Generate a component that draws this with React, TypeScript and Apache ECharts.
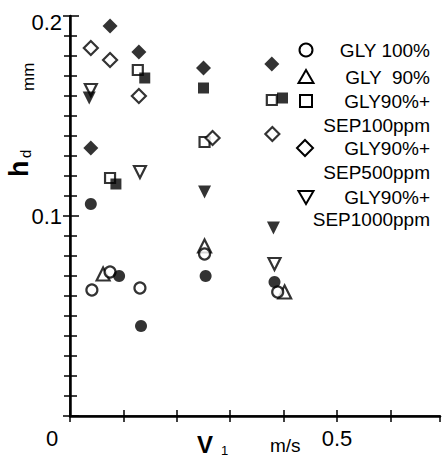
import React, { useEffect, useRef } from "react";
import * as echarts from "echarts";

// ---- data (V1 in m/s, hd in mm) ----
const gly100Open = [[0.041, 0.063], [0.075, 0.072], [0.131, 0.064], [0.252, 0.081], [0.389, 0.062]];
const gly100Filled = [[0.039, 0.106], [0.092, 0.070], [0.133, 0.045], [0.254, 0.070], [0.383, 0.067]];
const gly90Open = [[0.062, 0.071], [0.252, 0.085], [0.402, 0.062]];
const sep100Open = [[0.075, 0.119], [0.127, 0.173], [0.252, 0.137], [0.378, 0.158]];
const sep100Filled = [[0.086, 0.116], [0.140, 0.169], [0.250, 0.164], [0.398, 0.159]];
const sep500Open = [[0.039, 0.184], [0.075, 0.178], [0.129, 0.160], [0.267, 0.139], [0.379, 0.141]];
const sep500Filled = [[0.039, 0.134], [0.075, 0.195], [0.129, 0.182], [0.250, 0.174], [0.378, 0.176]];
const sep1000Open = [[0.039, 0.163], [0.131, 0.122], [0.383, 0.076]];
const sep1000Filled = [[0.036, 0.159], [0.252, 0.112], [0.381, 0.094]];

const xTickLabels = ["0", "0.5"];
const yTickLabels = ["0.1", "0.2"];
const legendLines = [
  ["GLY 100%"],
  ["GLY  90%"],
  ["GLY90%+", "SEP100ppm"],
  ["GLY90%+", "SEP500ppm"],
  ["GLY90%+", "SEP1000ppm"],
];

const FONT = '"Liberation Sans", Arial, sans-serif';
const INK = "#000";

export default function App() {
  const ref = useRef<HTMLDivElement>(null);
  useEffect(() => {
    const chart = echarts.init(ref.current!, null, { renderer: "svg" });
    const open = (name: string, data: number[][], symbol: string, size: number, rotate = 0) => ({
      name,
      type: "scatter",
      data,
      symbol,
      symbolSize: size,
      symbolRotate: rotate,
      itemStyle: { color: "#fff", borderColor: INK, borderWidth: 2.2 },
      z: 2,
    });
    const filled = (name: string, data: number[][], symbol: string, size: number, rotate = 0) => ({
      name,
      type: "scatter",
      data,
      symbol,
      symbolSize: size,
      symbolRotate: rotate,
      itemStyle: { color: INK, borderColor: INK, borderWidth: 0 },
      z: 3,
    });

    const lineStyle = (w: number) => ({ show: true, lineStyle: { color: INK, width: w } });
    const fmtX = (v: number) =>
      Math.abs(v - 0.5) < 1e-6 ? xTickLabels[1] : Math.abs(v) < 1e-6 ? "{o|" + xTickLabels[0] + "}" : "";
    const fmtY = (v: number) => {
      if (Math.abs(v - 0.1) < 1e-6) return yTickLabels[0];
      if (Math.abs(v - 0.2) < 1e-6) return "{t|" + yTickLabels[1] + "}";
      return "";
    };

    const legendY = [[50], [77], [101, 125], [148, 172], [197, 219]];
    const graphic: any[] = [];
    legendLines.forEach((lines, i) => {
      lines.forEach((t, j) => {
        graphic.push({
          type: "text",
          x: 430,
          y: legendY[i][j],
          style: { text: t, textAlign: "right", textVerticalAlign: "middle", fontSize: 19, fontFamily: FONT, fill: INK },
        });
      });
    });
    const sym = { fill: "#fff", stroke: INK, lineWidth: 2 };
    graphic.push(
      { type: "circle", shape: { cx: 306, cy: 50, r: 6.5 }, style: sym },
      { type: "polygon", shape: { points: [[306, 70], [313.5, 83], [298.5, 83]] }, style: sym },
      { type: "rect", shape: { x: 300, y: 95, width: 12, height: 12 }, style: sym },
      { type: "polygon", shape: { points: [[305, 140], [313, 148], [305, 156], [297, 148]] }, style: sym },
      { type: "polygon", shape: { points: [[298.5, 191], [313.5, 191], [306, 204]] }, style: sym },
      // axis titles
      {
        type: "text", x: 32, y: 177, rotation: Math.PI / 2,
        style: { text: "h", fontSize: 27, fontWeight: "bold", fontFamily: FONT, fill: INK, textAlign: "left", textVerticalAlign: "bottom" },
      },
      {
        type: "text", x: 33, y: 158, rotation: Math.PI / 2,
        style: { text: "d", fontSize: 15, fontFamily: FONT, fill: INK, textAlign: "left", textVerticalAlign: "bottom" },
      },
      {
        type: "text", x: 37, y: 91, rotation: Math.PI / 2,
        style: { text: "mm", fontSize: 17, fontFamily: FONT, fill: INK, textAlign: "left", textVerticalAlign: "bottom" },
      },
      {
        type: "text", x: 197, y: 456,
        style: { text: "V", fontSize: 24, fontWeight: "bold", fontFamily: FONT, fill: INK, textAlign: "left", textVerticalAlign: "bottom" },
      },
      {
        type: "text", x: 221, y: 457,
        style: { text: "1", fontSize: 13, fontFamily: FONT, fill: INK, textAlign: "left", textVerticalAlign: "bottom" },
      },
      {
        type: "text", x: 270, y: 455,
        style: { text: "m/s", fontSize: 19, fontFamily: FONT, fill: INK, textAlign: "left", textVerticalAlign: "bottom" },
      }
    );

    chart.setOption({
      animation: false,
      backgroundColor: "#fff",
      grid: { left: 70, top: 16, width: 370, height: 400 },
      xAxis: [
        {
          type: "value", min: 0, max: 0.693, interval: 0.1, position: "bottom",
          axisLine: lineStyle(2.5),
          axisTick: { show: true, inside: true, length: 6, lineStyle: { color: INK, width: 1.5 } },
          splitLine: { show: false },
          axisLabel: {
            formatter: fmtX, fontSize: 22, color: INK, fontFamily: FONT, margin: 11, showMaxLabel: false,
            rich: { o: { fontSize: 22, color: INK, fontFamily: FONT, padding: [0, 36, 0, 0] } },
          },
        },
        {
          type: "value", min: 0, max: 0.693, interval: 0.1, position: "top",
          axisLine: lineStyle(1.5),
          axisTick: { show: true, inside: true, length: 6, lineStyle: { color: INK, width: 1.5 } },
          splitLine: { show: false },
          axisLabel: { show: false },
        },
      ],
      yAxis: [
        {
          type: "value", min: 0, max: 0.2, interval: 0.1, position: "left",
          axisLine: lineStyle(2.5),
          axisTick: { show: true, inside: true, length: 9, lineStyle: { color: INK, width: 1.5 } },
          minorTick: { show: true, splitNumber: 10, length: 7, lineStyle: { color: INK, width: 1.5 } },
          splitLine: { show: false },
          axisLabel: {
            formatter: fmtY, fontSize: 22, color: INK, fontFamily: FONT, margin: 8,
            rich: { t: { fontSize: 22, color: INK, fontFamily: FONT, padding: [12, 0, 0, 0] } },
          },
        },
        {
          type: "value", min: 0, max: 0.2, interval: 0.1, position: "right",
          axisLine: lineStyle(1.5),
          axisTick: { show: true, inside: true, length: 7, lineStyle: { color: INK, width: 1.5 } },
          minorTick: { show: true, splitNumber: 10, length: 6, lineStyle: { color: INK, width: 1.5 } },
          splitLine: { show: false },
          axisLabel: { show: false },
        },
      ],
      series: [
        open("GLY 90%", gly90Open, "triangle", 13),
        open("GLY 100%", gly100Open, "circle", 11),
        open("GLY90%+SEP100ppm", sep100Open, "rect", 10),
        open("GLY90%+SEP500ppm", sep500Open, "diamond", 14),
        open("GLY90%+SEP1000ppm", sep1000Open, "triangle", 12, 180),
        filled("GLY 100% (filled)", gly100Filled, "circle", 12),
        filled("GLY90%+SEP100ppm (filled)", sep100Filled, "rect", 11),
        filled("GLY90%+SEP500ppm (filled)", sep500Filled, "diamond", 15),
        filled("GLY90%+SEP1000ppm (filled)", sep1000Filled, "triangle", 13, 180),
      ],
      graphic,
    });
    return () => chart.dispose();
  }, []);
  return (
    <div
      ref={ref}
      style={{ position: "fixed", left: 0, top: 0, width: 443, height: 457, background: "#fff" }}
    />
  );
}
